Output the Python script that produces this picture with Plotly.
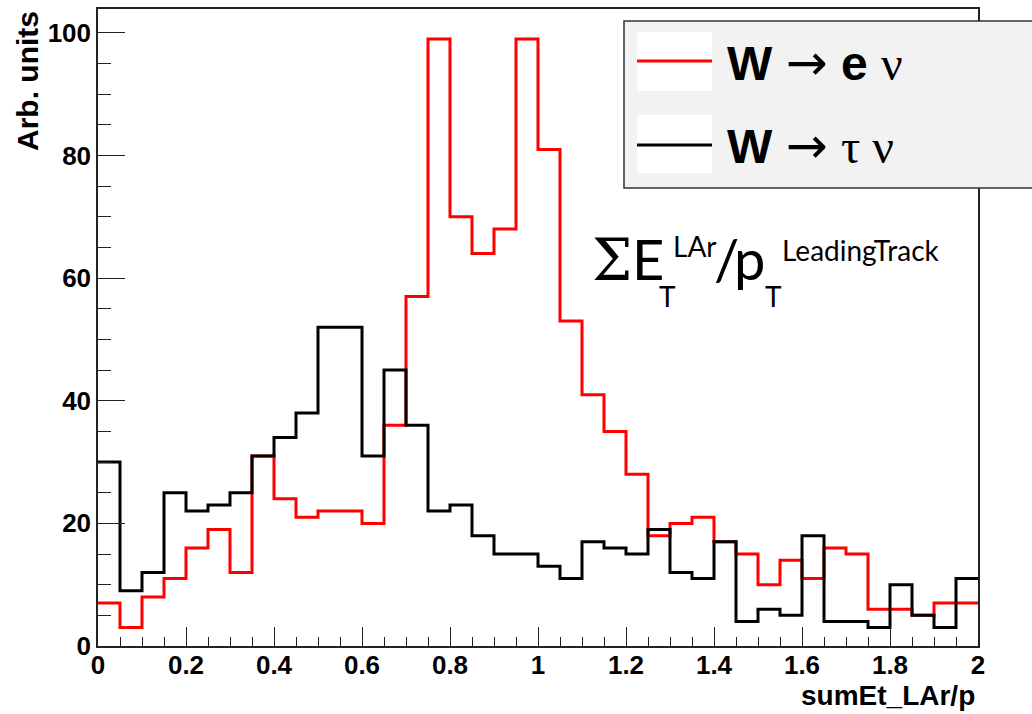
import numpy as np
import plotly.graph_objects as go

# ---------------- data ----------------
bin_lo, bin_hi, n_bins = 0.0, 2.0, 40
w_enu = [7, 3, 8, 11, 16, 19, 12, 31, 24, 21,
         22, 22, 20, 36, 57, 99, 70, 64, 68, 99,
         81, 53, 41, 35, 28, 18, 20, 21, 17, 15,
         10, 14, 11, 16, 15, 6, 6, 5, 7, 7]
w_taunu = [30, 9, 12, 25, 22, 23, 25, 31, 34, 38,
           52, 52, 31, 45, 36, 22, 23, 18, 15, 15,
           13, 11, 17, 16, 15, 19, 12, 11, 17, 4,
           6, 5, 18, 4, 4, 3, 10, 5, 3, 11]
x_tick_vals = [0, 0.2, 0.4, 0.6, 0.8, 1.0, 1.2, 1.4, 1.6, 1.8, 2.0]
x_tick_text = ["0", "0.2", "0.4", "0.6", "0.8", "1", "1.2", "1.4", "1.6", "1.8", "2"]
y_tick_vals = [0, 20, 40, 60, 80, 100]
y_tick_text = ["0", "20", "40", "60", "80", "100"]

edges = np.linspace(bin_lo, bin_hi, n_bins + 1)

# ---------------- geometry ----------------
W, H = 1032, 714
L, R, T, B = 98, 54, 9, 68
PW, PH = W - L - R, H - T - B


def px(x):
    return (x - L) / PW


def py(y):
    return (H - B - y) / PH


fig = go.Figure()
for vals, col in [(w_enu, "#ff0000"), (w_taunu, "#000000")]:
    fig.add_trace(go.Scatter(
        x=edges, y=list(vals) + [vals[-1]], mode="lines",
        line=dict(color=col, width=3, shape="hv"),
        showlegend=False, hoverinfo="skip"))

tickfont = dict(family="Liberation Sans", size=26, color="#000", weight="bold")
fig.update_xaxes(range=[bin_lo, bin_hi], tickvals=x_tick_vals, ticktext=x_tick_text,
                 ticks="inside", ticklen=19, tickwidth=1.3, tickcolor="#222",
                 minor=dict(dtick=0.05, ticks="inside", ticklen=9, tickwidth=1.3, tickcolor="#222"),
                 showline=True, linecolor="#222", linewidth=1.5, mirror=True,
                 showgrid=False, zeroline=False, tickfont=tickfont, ticklabelstandoff=-5)
fig.update_yaxes(range=[0, 103.9], tickvals=y_tick_vals, ticktext=y_tick_text,
                 ticks="inside", ticklen=27, tickwidth=1.3, tickcolor="#222",
                 minor=dict(dtick=5, ticks="inside", ticklen=13, tickwidth=1.3, tickcolor="#222"),
                 showline=True, linecolor="#222", linewidth=1.5, mirror=True,
                 showgrid=False, zeroline=False, tickfont=tickfont, ticklabelstandoff=0)

shapes = []
# legend box
shapes.append(dict(type="rect", xref="paper", yref="paper", x0=px(624), x1=px(1120),
                   y0=py(188), y1=py(21), fillcolor="#f2f2f2",
                   line=dict(color="#333", width=1.5), layer="above"))
for (ytop, ybot, yl, col) in [(32, 91, 61, "#ff0000"), (115, 173, 145, "#000000")]:
    shapes.append(dict(type="rect", xref="paper", yref="paper", x0=px(637), x1=px(712),
                       y0=py(ybot), y1=py(ytop), fillcolor="#ffffff", line=dict(width=0),
                       layer="above"))
    shapes.append(dict(type="line", xref="paper", yref="paper", x0=px(637), x1=px(712),
                       y0=py(yl), y1=py(yl), line=dict(color=col, width=3), layer="above"))

ann = []
serif = "font-family:'Liberation Serif'"
arrow = "<span style=\"font-family:'DejaVu Sans';font-size:50px\">→</span>"
legend_lines = [
    ("<b>W</b> %s <b>e</b> <span style=\"%s\">ν</span>" % (arrow, serif), 63),
    ("<b>W</b> %s <span style=\"%s\">τ ν</span>" % (arrow, serif), 146),
]
for txt, yc in legend_lines:
    ann.append(dict(text=txt, xref="paper", yref="paper", x=px(725), y=py(yc),
                    xanchor="left", yanchor="middle", showarrow=False,
                    font=dict(family="Liberation Sans", size=48, color="#000")))

# formula pieces
formula = [
    ("Σ", "DejaVu Serif", 57, 590, 260),
    ("E", "Lato", 56, 630, 258),
    ("T", "Lato", 28, 657, 296),
    ("LAr", "Lato", 28, 671, 246),
    ("/", "Lato", 56, 712, 258),
    ("p", "Lato", 56, 732, 258),
    ("T", "Lato", 28, 763, 296),
    ("LeadingTrack", "Lato", 28, 780, 250),
]
for txt, fam, sz, x0, yc in formula:
    ann.append(dict(text=txt, xref="paper", yref="paper", x=px(x0), y=py(yc),
                    xanchor="left", yanchor="middle", showarrow=False,
                    font=dict(family=fam, size=sz, color="#000")))

# axis titles
ann.append(dict(text="<b>sumEt_LAr/p</b>", xref="paper", yref="paper", x=px(977), y=py(695),
                xanchor="right", yanchor="middle", showarrow=False,
                font=dict(family="Liberation Sans", size=28, color="#000")))
ann.append(dict(text="<b>Arb. units</b>", xref="paper", yref="paper", x=px(27), y=py(9),
                xanchor="center", yanchor="top", textangle=-90, showarrow=False,
                font=dict(family="Liberation Sans", size=30, color="#000")))

fig.update_layout(width=W, height=H, margin=dict(l=L, r=R, t=T, b=B, autoexpand=False),
                  paper_bgcolor="#ffffff", plot_bgcolor="#ffffff",
                  shapes=shapes, annotations=ann, showlegend=False)

fig.write_html("out.html")
